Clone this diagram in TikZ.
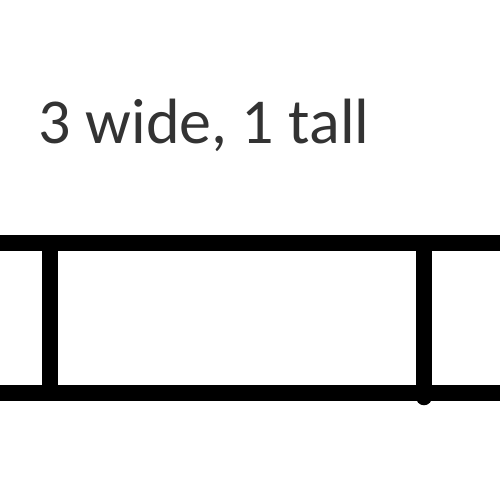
\documentclass[tikz,border=0pt]{standalone}
\usepackage{fontspec}
\setmainfont{Carlito}

\begin{document}
\begin{tikzpicture}[x=0.01cm, y=-0.01cm]
        \useasboundingbox (0,0) rectangle (500,500);
        \node [anchor=base west, inner sep=0pt, text=black!80, font=\fontsize{18.2pt}{20pt}\selectfont] (label) at (38,143) {3 wide, 1 tall};
        \draw[line width=4.7pt] (-10,243)--(510,243);
        \draw[line width=4.7pt] (-10,393)--(510,393);
        \draw[line width=4.7pt] (50,243)--(50,393);
        \draw[line width=4.7pt, line cap=round] (424,252)--(424,397);
    \end{tikzpicture}
\end{document}
